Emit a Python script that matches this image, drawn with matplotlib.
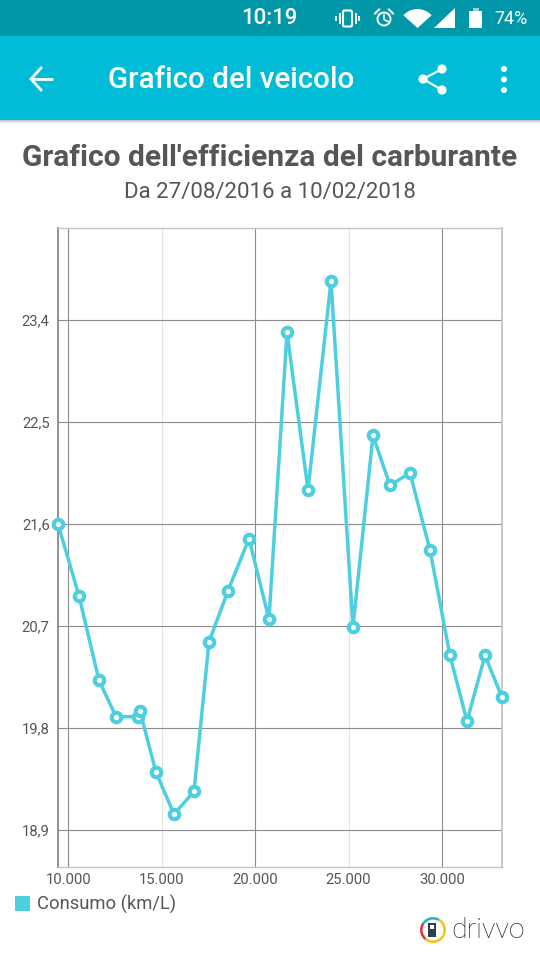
import matplotlib
matplotlib.use("Agg")
import matplotlib.pyplot as plt
from matplotlib.patches import Rectangle, Polygon, Circle, Wedge, FancyBboxPatch

plt.rcParams['font.family'] = ['Roboto', 'DejaVu Sans']

odometer = [9449, 10573, 11643, 12553, 13731, 13838, 14694, 15658, 16729, 17532, 18549, 19673,
            20744, 21708, 22832, 24063, 25240, 26311, 27221, 28291, 29362, 30433, 31343, 32307, 33217]
consumption = [21.60, 20.965, 20.22, 19.90, 19.90, 19.95, 19.41, 19.04, 19.24, 20.56, 21.01, 21.47,
               20.76, 23.29, 21.90, 23.74, 20.69, 22.38, 21.94, 22.05, 21.37, 20.44, 19.86, 20.44, 20.07]
x_ticks = [10000, 15000, 20000, 25000, 30000]
x_tick_labels = ['10.000', '15.000', '20.000', '25.000', '30.000']
y_ticks = [18.9, 19.8, 20.7, 21.6, 22.5, 23.4]
y_tick_labels = ['18,9', '19,8', '20,7', '21,6', '22,5', '23,4']
series_name = 'Consumo (km/L)'
chart_title = "Grafico dell'efficienza del carburante"
chart_subtitle = 'Da 27/08/2016 a 10/02/2018'
app_title = 'Grafico del veicolo'

W, H = 540, 960
fig = plt.figure(figsize=(W/100, H/100), dpi=100, facecolor='white')

LINE = '#4dcfe0'
TXT = '#55565a'
DARK = '#8c8c8c'
LIGHT = '#e2e2e2'

# chart axes
L, R, T, B = 58, 502, 228, 867
ax = fig.add_axes([L/W, 1-B/H, (R-L)/W, (B-T)/H])
ax.set_xlim(9449, 33217)
ax.set_ylim(18.574, 24.21)
for i, t in enumerate(x_ticks):
    ax.axvline(t, color=DARK if i % 2 == 0 else LIGHT, lw=0.8, zorder=1)
for t in y_ticks:
    ax.axhline(t, color=DARK, lw=0.8, zorder=1)
ax.set_xticks(x_ticks)
ax.set_xticklabels(x_tick_labels)
ax.set_yticks(y_ticks)
ax.set_yticklabels(y_tick_labels)
ax.tick_params(axis='both', length=0, labelsize=10.7, labelcolor=TXT)
ax.tick_params(axis='x', pad=4.5)
ax.tick_params(axis='y', pad=6)
ax.spines['left'].set_color('#8a8a8a')
ax.spines['left'].set_linewidth(1.3)
ax.spines['right'].set_color('#c4c4c4')
ax.spines['right'].set_linewidth(1.3)
ax.spines['top'].set_color('#c4c4c4')
ax.spines['top'].set_linewidth(1.0)
ax.spines['bottom'].set_color('#c4c4c4')
ax.spines['bottom'].set_linewidth(1.0)
ax.plot(odometer, consumption, color=LINE, lw=2.5, marker='o', ms=6.8, mfc='white',
        mec=LINE, mew=3.0, clip_on=False, zorder=3, label=series_name)

# page overlay in pixel coordinates
ui = fig.add_axes([0, 0, 1, 1], facecolor='none', zorder=5)
ui.set_xlim(0, W)
ui.set_ylim(H, 0)
ui.axis('off')
ui.add_patch(Rectangle((0, 0), W, 36, fc='#0097a9', ec='none'))
ui.add_patch(Rectangle((0, 36), W, 84, fc='#00bcd6', ec='none'))
for i, a in enumerate([0.22, 0.14, 0.08, 0.04]):
    ui.add_patch(Rectangle((0, 120+i), W, 1, fc='black', alpha=a, ec='none'))

ui.text(269.5, 18.5, '10:19', color='white', fontsize=16, ha='center', va='center', fontweight='medium')
ui.text(528, 19, '74%', color='white', fontsize=13, ha='right', va='center')
# vibrate
ui.add_patch(FancyBboxPatch((343, 10.5), 9, 16, boxstyle='round,pad=0,rounding_size=1.5', fc='none', ec='white', lw=1.5))
for x, h0, h1 in [(339.5, 13, 24), (355.5, 13, 24), (336, 16, 21), (359, 16, 21)]:
    ui.plot([x, x], [h0, h1], color='white', lw=1.3, solid_capstyle='butt')
# alarm
ui.add_patch(Circle((384, 19), 6.5, fc='none', ec='white', lw=1.4))
ui.plot([384, 384, 388], [15, 19.5, 21.5], color='white', lw=1.1)
ui.plot([375, 379], [13.5, 9.5], color='white', lw=1.5)
ui.plot([389, 393], [9.5, 13.5], color='white', lw=1.5)
# wifi / cell / battery
ui.add_patch(Wedge((417.5, 28), 19, 222, 318, fc='white', ec='none'))
ui.add_patch(Polygon([[434, 28], [455, 28], [455, 8]], fc='white', ec='none'))
ui.add_patch(Rectangle((469, 11), 13, 17, fc='white', ec='none'))
ui.add_patch(Rectangle((472.5, 7.5), 6, 3.5, fc='#9fd3dc', ec='none'))

# app bar
ui.plot([31, 53], [79, 79], color='white', lw=2.0, solid_capstyle='butt')
ui.plot([41, 31, 41], [68, 79, 90], color='white', lw=2.0, solid_joinstyle='miter')
ui.text(108, 80, app_title, color='white', fontsize=21.3, ha='left', va='center', fontweight='medium')
sx = [442, 423, 442]
sy = [69, 79, 90]
ui.plot(sx, sy, color='white', lw=1.6)
for x, y in zip(sx, sy):
    ui.add_patch(Circle((x, y), 4.6, fc='white', ec='none'))
for y in (69, 79.5, 90):
    ui.add_patch(Circle((504, y), 3.0, fc='white', ec='none'))

# titles
ui.text(270, 158, chart_title, color=TXT, fontsize=21.5, fontweight='bold', ha='center', va='center')
ui.text(270, 192.5, chart_subtitle, color=TXT, fontsize=16, ha='center', va='center')

# legend
ui.add_patch(Rectangle((15, 896), 15, 15, fc=LINE, ec='none'))
ui.text(37, 904, series_name, color=TXT, fontsize=13.2, ha='left', va='center')

# logo
segs = [(300, 30, '#f4c21b'), (30, 130, '#f4c21b'), (130, 215, '#e53935'), (215, 300, '#26b5c9')]
for a, b, c in segs:
    ui.add_patch(Wedge((433, 930), 13, a, b, width=2.6, fc=c, ec='none'))
ui.add_patch(Rectangle((428, 923), 8, 14, fc='#2c3e50', ec='none'))
ui.add_patch(Rectangle((430, 925), 4, 4, fc='white', ec='none'))
ui.text(451, 931, 'drivvo', color='#263238', fontsize=20.4, ha='left', va='center', fontweight='light')

fig.savefig('out.png', dpi=100)
